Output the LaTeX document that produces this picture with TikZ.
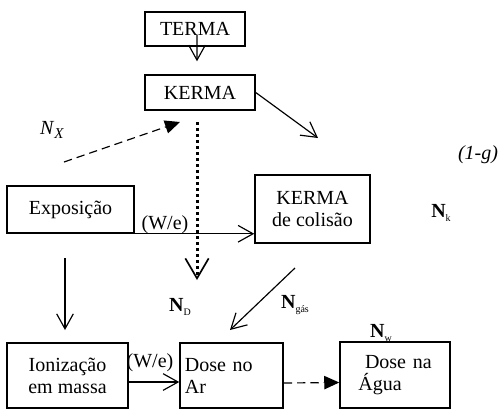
\documentclass[tikz,border=0pt]{standalone}
\usepackage{fontspec}
\setmainfont{Liberation Serif}
\usetikzlibrary{arrows.meta}
\newcommand{\Nfac}[1]{\textbf{N}\raisebox{-2pt}{\fontsize{6pt}{6pt}\selectfont #1}}
\begin{document}
\begin{tikzpicture}[x=0.6pt,y=-0.6pt,
    font=\fontsize{12pt}{13.2pt}\selectfont,
    box/.style={draw, line width=0.9pt, inner sep=2pt, align=center},
    conn/.style={line width=0.7pt, -{Straight Barb[length=9pt,width=10pt]}},
    dashconn/.style={line width=0.7pt, dash pattern=on 5pt off 3pt, -{Triangle[length=9pt,width=8pt]}},
    dotconn/.style={line width=1.8pt, dash pattern=on 1.8pt off 1.8pt, -{Straight Barb[length=12pt,width=14pt,line width=1pt]}}]
    \useasboundingbox (0,0) rectangle (502,418);

    % Boxes
    \node[box, minimum width=60pt, minimum height=20.4pt] (terma) at (195,29) {TERMA};
    \node[box, minimum width=66pt, minimum height=21pt] (kerma) at (200,92.5) {KERMA};
    \node[box, minimum width=69pt, minimum height=40.8pt] (kcol) at (312.5,209) {KERMA\\de colisão};
    \node[box, minimum width=76.2pt, minimum height=28.2pt] (expo) at (70.5,209.5) {Exposição};
    \node[box, minimum width=72.6pt, minimum height=39pt] (ioniz) at (67.5,375.5) {Ionização\\em massa};
    \node[box, minimum width=61.8pt, minimum height=39pt, text width=56pt, align=left] (doar) at (231.5,375.5) {Dose no\\Ar};
    \node[box, minimum width=66pt, minimum height=39.6pt, text width=44pt, align=left] (doagua) at (395,375) {~Dose na\\Água};

    % Factors
    \node (nx) at (52,130) {\textit{N}\raisebox{-2.5pt}{\fontsize{9pt}{9pt}\selectfont\textit{X}}};
    \node (umg) at (478,155) {\textit{(1-g)}};
    \node (nk) at (441,213) {\Nfac{k}};
    \node (nd) at (180,307) {\Nfac{D}};
    \node (ngas) at (295,305) {\Nfac{gás}};
    \node (nw) at (381,333) {\Nfac{w}};
    \node (wea) at (165,225) {(W/e)};
    \node (web) at (150,363) {(W/e)};

    % Free ends
    \coordinate (kdiag) at (318,138);
    \coordinate (nxa) at (64,162);
    \coordinate (nxb) at (180,122);
    \coordinate (dtop) at (197,122);
    \coordinate (dbot) at (197,280);
    \coordinate (ea) at (65,258);
    \coordinate (eb) at (65,330);
    \coordinate (ga) at (295,268);
    \coordinate (gb) at (230,330);

    % Arrows
    \draw[conn] ([xshift=1.2pt,yshift=-3.6pt]terma.center) -- ([xshift=-1.8pt,yshift=7.8pt]kerma.north);
    \draw[conn] (kerma.east) -- (kdiag);
    \draw[dashconn] (nxa) -- (nxb);
    \draw[dotconn] (dtop) -- (dbot);
    \draw[conn] (expo.south east) -- (expo.south east -| kcol.west);
    \draw[conn] (ea) -- (eb);
    \draw[conn] (ga) -- (gb);
    \draw[conn] ([yshift=-3.9pt]ioniz.east) -- ([yshift=-3.9pt]doar.west);
    \draw[dashconn] ([yshift=-4.5pt]doar.east) -- ([yshift=-4.5pt]doagua.west);
\end{tikzpicture}
\end{document}
